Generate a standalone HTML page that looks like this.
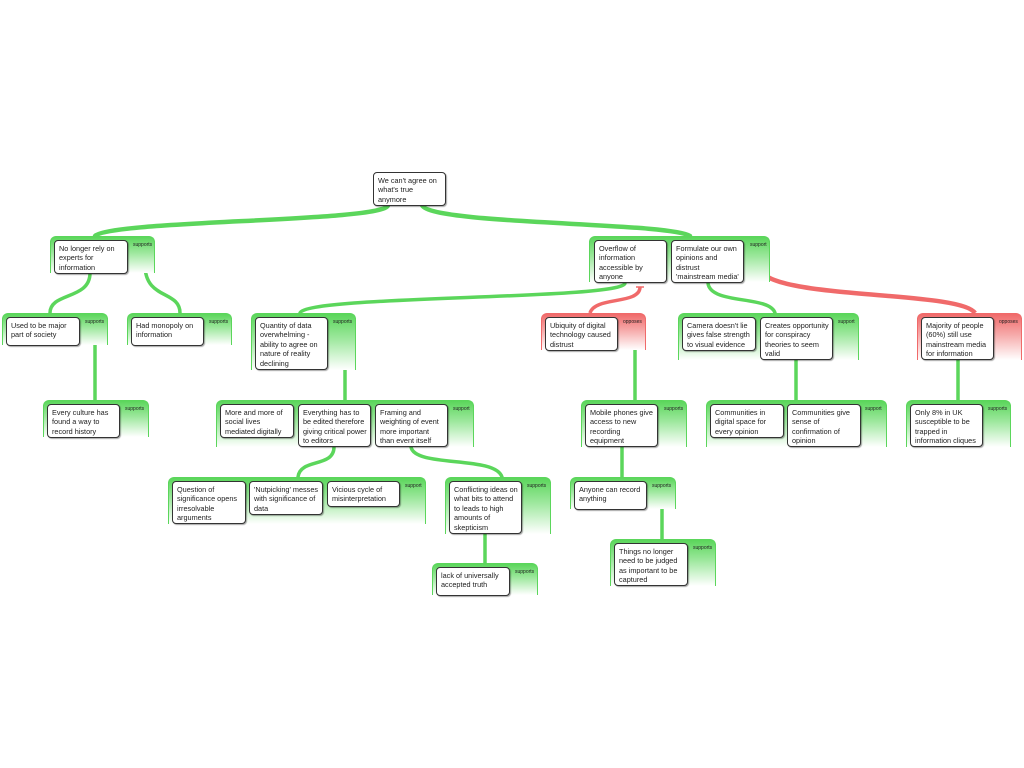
<!DOCTYPE html>
<html><head><meta charset="utf-8"><style>
body{margin:0;width:1024px;height:768px;background:#fff;position:relative;overflow:hidden;font-family:"Liberation Sans",sans-serif}
.c{position:absolute;border-radius:6px 6px 0 0;border:1.5px solid #5bd65b;border-bottom:none;background:linear-gradient(to bottom,#5bd65b 0%,#9fe89f 45%,#ffffff 100%);box-sizing:border-box}
.c.r{border-color:#f06a6a;background:linear-gradient(to bottom,#f06a6a 0%,#f6aaaa 45%,#ffffff 100%)}
.b{position:absolute;background:#fff;border:1.3px solid #333;border-radius:4px;box-sizing:border-box;font-size:7.3px;line-height:9.4px;padding:3px 2px 3px 4px;color:#222;box-shadow:1px 1px 1px rgba(0,0,0,.35);white-space:nowrap;overflow:hidden}
.l{position:absolute;font-size:5px;color:#222}
svg{position:absolute;left:0;top:0}
</style></head><body>
<svg width="1024" height="768">
<g fill="none" stroke="#5bd65b" stroke-width="3.5" stroke-linecap="round">
<path d="M388 205 C388 222,110 220,95 236" stroke-width="4.5"/>
<path d="M422 205 C430 225,670 222,690 236" stroke-width="4.5"/>
<path d="M90 273 C90 300,50 292,50 313"/>
<path d="M145 265 C145 300,180 290,180 313"/>
<path d="M625 283 C625 300,305 295,300 313"/>
<path d="M708 283 C710 305,770 295,775 313"/>
<path d="M95 343 L95 400"/>
<path d="M345 343 L345 400"/>
<path d="M635 343 L635 400"/>
<path d="M796 360 L796 400"/>
<path d="M958 360 L958 400"/>
<path d="M334 447 C334 468,300 458,298 477"/>
<path d="M411 447 C415 468,495 455,502 477"/>
<path d="M622 447 L622 477"/>
<path d="M485 534 L485 563"/>
<path d="M662 507 L662 539"/>
</g>
<g fill="none" stroke="#f06a6a" stroke-width="3.5">
<path d="M640 287 C640 305,595 296,590 313"/>
<path d="M760 268 C765 300,960 290,975 313" stroke-width="4.5"/>
</g>
<g stroke="#5bd65b" stroke-width="1.5"><path d="M141 264h8M91 343h8M341 343h8M631 343h8M658 507h8"/></g>
<g stroke="#f06a6a" stroke-width="1.5"><path d="M636 287h8M756 267h8"/></g>
</svg>

<div class="b" style="left:373px;top:172px;width:73px;height:34px">We can't agree on<br>what's true<br>anymore</div>

<div class="c" style="left:50px;top:236px;width:105px;height:37px"></div><div class="l" style="left:133px;top:242px">supports</div>
<div class="b" style="left:54px;top:240px;width:74px;height:34px">No longer rely on<br>experts for<br>information</div>

<div class="c" style="left:589px;top:236px;width:181px;height:46px"></div><div class="l" style="left:750px;top:242px">support</div>
<div class="b" style="left:594px;top:240px;width:73px;height:43px">Overflow of<br>information<br>accessible by<br>anyone</div>
<div class="b" style="left:671px;top:240px;width:73px;height:43px">Formulate our own<br>opinions and<br>distrust<br>'mainstream media'</div>

<div class="c" style="left:2px;top:313px;width:106px;height:32px"></div><div class="l" style="left:85px;top:319px">supports</div>
<div class="b" style="left:6px;top:317px;width:74px;height:29px">Used to be major<br>part of society</div>

<div class="c" style="left:127px;top:313px;width:105px;height:32px"></div><div class="l" style="left:209px;top:319px">supports</div>
<div class="b" style="left:131px;top:317px;width:73px;height:29px">Had monopoly on<br>information</div>

<div class="c" style="left:251px;top:313px;width:105px;height:57px"></div><div class="l" style="left:333px;top:319px">supports</div>
<div class="b" style="left:255px;top:317px;width:73px;height:53px">Quantity of data<br>overwhelming -<br>ability to agree on<br>nature of reality<br>declining</div>

<div class="c r" style="left:541px;top:313px;width:105px;height:37px"></div><div class="l" style="left:623px;top:319px">opposes</div>
<div class="b" style="left:545px;top:317px;width:73px;height:34px">Ubiquity of digital<br>technology caused<br>distrust</div>

<div class="c" style="left:678px;top:313px;width:181px;height:47px"></div><div class="l" style="left:838px;top:319px">support</div>
<div class="b" style="left:682px;top:317px;width:74px;height:34px">Camera doesn't lie<br>gives false strength<br>to visual evidence</div>
<div class="b" style="left:760px;top:317px;width:73px;height:43px">Creates opportunity<br>for conspiracy<br>theories to seem<br>valid</div>

<div class="c r" style="left:917px;top:313px;width:105px;height:47px"></div><div class="l" style="left:999px;top:319px">opposes</div>
<div class="b" style="left:921px;top:317px;width:73px;height:43px">Majority of people<br>(60%) still use<br>mainstream media<br>for information</div>

<div class="c" style="left:43px;top:400px;width:106px;height:37px"></div><div class="l" style="left:125px;top:406px">supports</div>
<div class="b" style="left:47px;top:404px;width:73px;height:34px">Every culture has<br>found a way to<br>record history</div>

<div class="c" style="left:216px;top:400px;width:258px;height:47px"></div><div class="l" style="left:453px;top:406px">support</div>
<div class="b" style="left:220px;top:404px;width:74px;height:34px">More and more of<br>social lives<br>mediated digitally</div>
<div class="b" style="left:298px;top:404px;width:73px;height:43px">Everything has to<br>be edited therefore<br>giving critical power<br>to editors</div>
<div class="b" style="left:375px;top:404px;width:73px;height:43px">Framing and<br>weighting of event<br>more important<br>than event itself</div>

<div class="c" style="left:581px;top:400px;width:106px;height:47px"></div><div class="l" style="left:664px;top:406px">supports</div>
<div class="b" style="left:585px;top:404px;width:73px;height:43px">Mobile phones give<br>access to new<br>recording<br>equipment</div>

<div class="c" style="left:706px;top:400px;width:181px;height:47px"></div><div class="l" style="left:865px;top:406px">support</div>
<div class="b" style="left:710px;top:404px;width:74px;height:34px">Communities in<br>digital space for<br>every opinion</div>
<div class="b" style="left:787px;top:404px;width:74px;height:43px">Communities give<br>sense of<br>confirmation of<br>opinion</div>

<div class="c" style="left:906px;top:400px;width:105px;height:47px"></div><div class="l" style="left:988px;top:406px">supports</div>
<div class="b" style="left:910px;top:404px;width:73px;height:43px">Only 8% in UK<br>susceptible to be<br>trapped in<br>information cliques</div>

<div class="c" style="left:168px;top:477px;width:258px;height:47px"></div><div class="l" style="left:405px;top:483px">support</div>
<div class="b" style="left:172px;top:481px;width:74px;height:43px">Question of<br>significance opens<br>irresolvable<br>arguments</div>
<div class="b" style="left:249px;top:481px;width:74px;height:34px">'Nutpicking' messes<br>with significance of<br>data</div>
<div class="b" style="left:327px;top:481px;width:73px;height:26px">Vicious cycle of<br>misinterpretation</div>

<div class="c" style="left:445px;top:477px;width:106px;height:57px"></div><div class="l" style="left:527px;top:483px">supports</div>
<div class="b" style="left:449px;top:481px;width:73px;height:53px">Conflicting ideas on<br>what bits to attend<br>to leads to high<br>amounts of<br>skepticism</div>

<div class="c" style="left:570px;top:477px;width:106px;height:32px"></div><div class="l" style="left:652px;top:483px">supports</div>
<div class="b" style="left:574px;top:481px;width:73px;height:29px">Anyone can record<br>anything</div>

<div class="c" style="left:432px;top:563px;width:106px;height:32px"></div><div class="l" style="left:515px;top:569px">supports</div>
<div class="b" style="left:436px;top:567px;width:74px;height:29px">lack of universally<br>accepted truth</div>

<div class="c" style="left:610px;top:539px;width:106px;height:47px"></div><div class="l" style="left:693px;top:545px">supports</div>
<div class="b" style="left:614px;top:543px;width:74px;height:43px">Things no longer<br>need to be judged<br>as important to be<br>captured</div>
</body></html>
